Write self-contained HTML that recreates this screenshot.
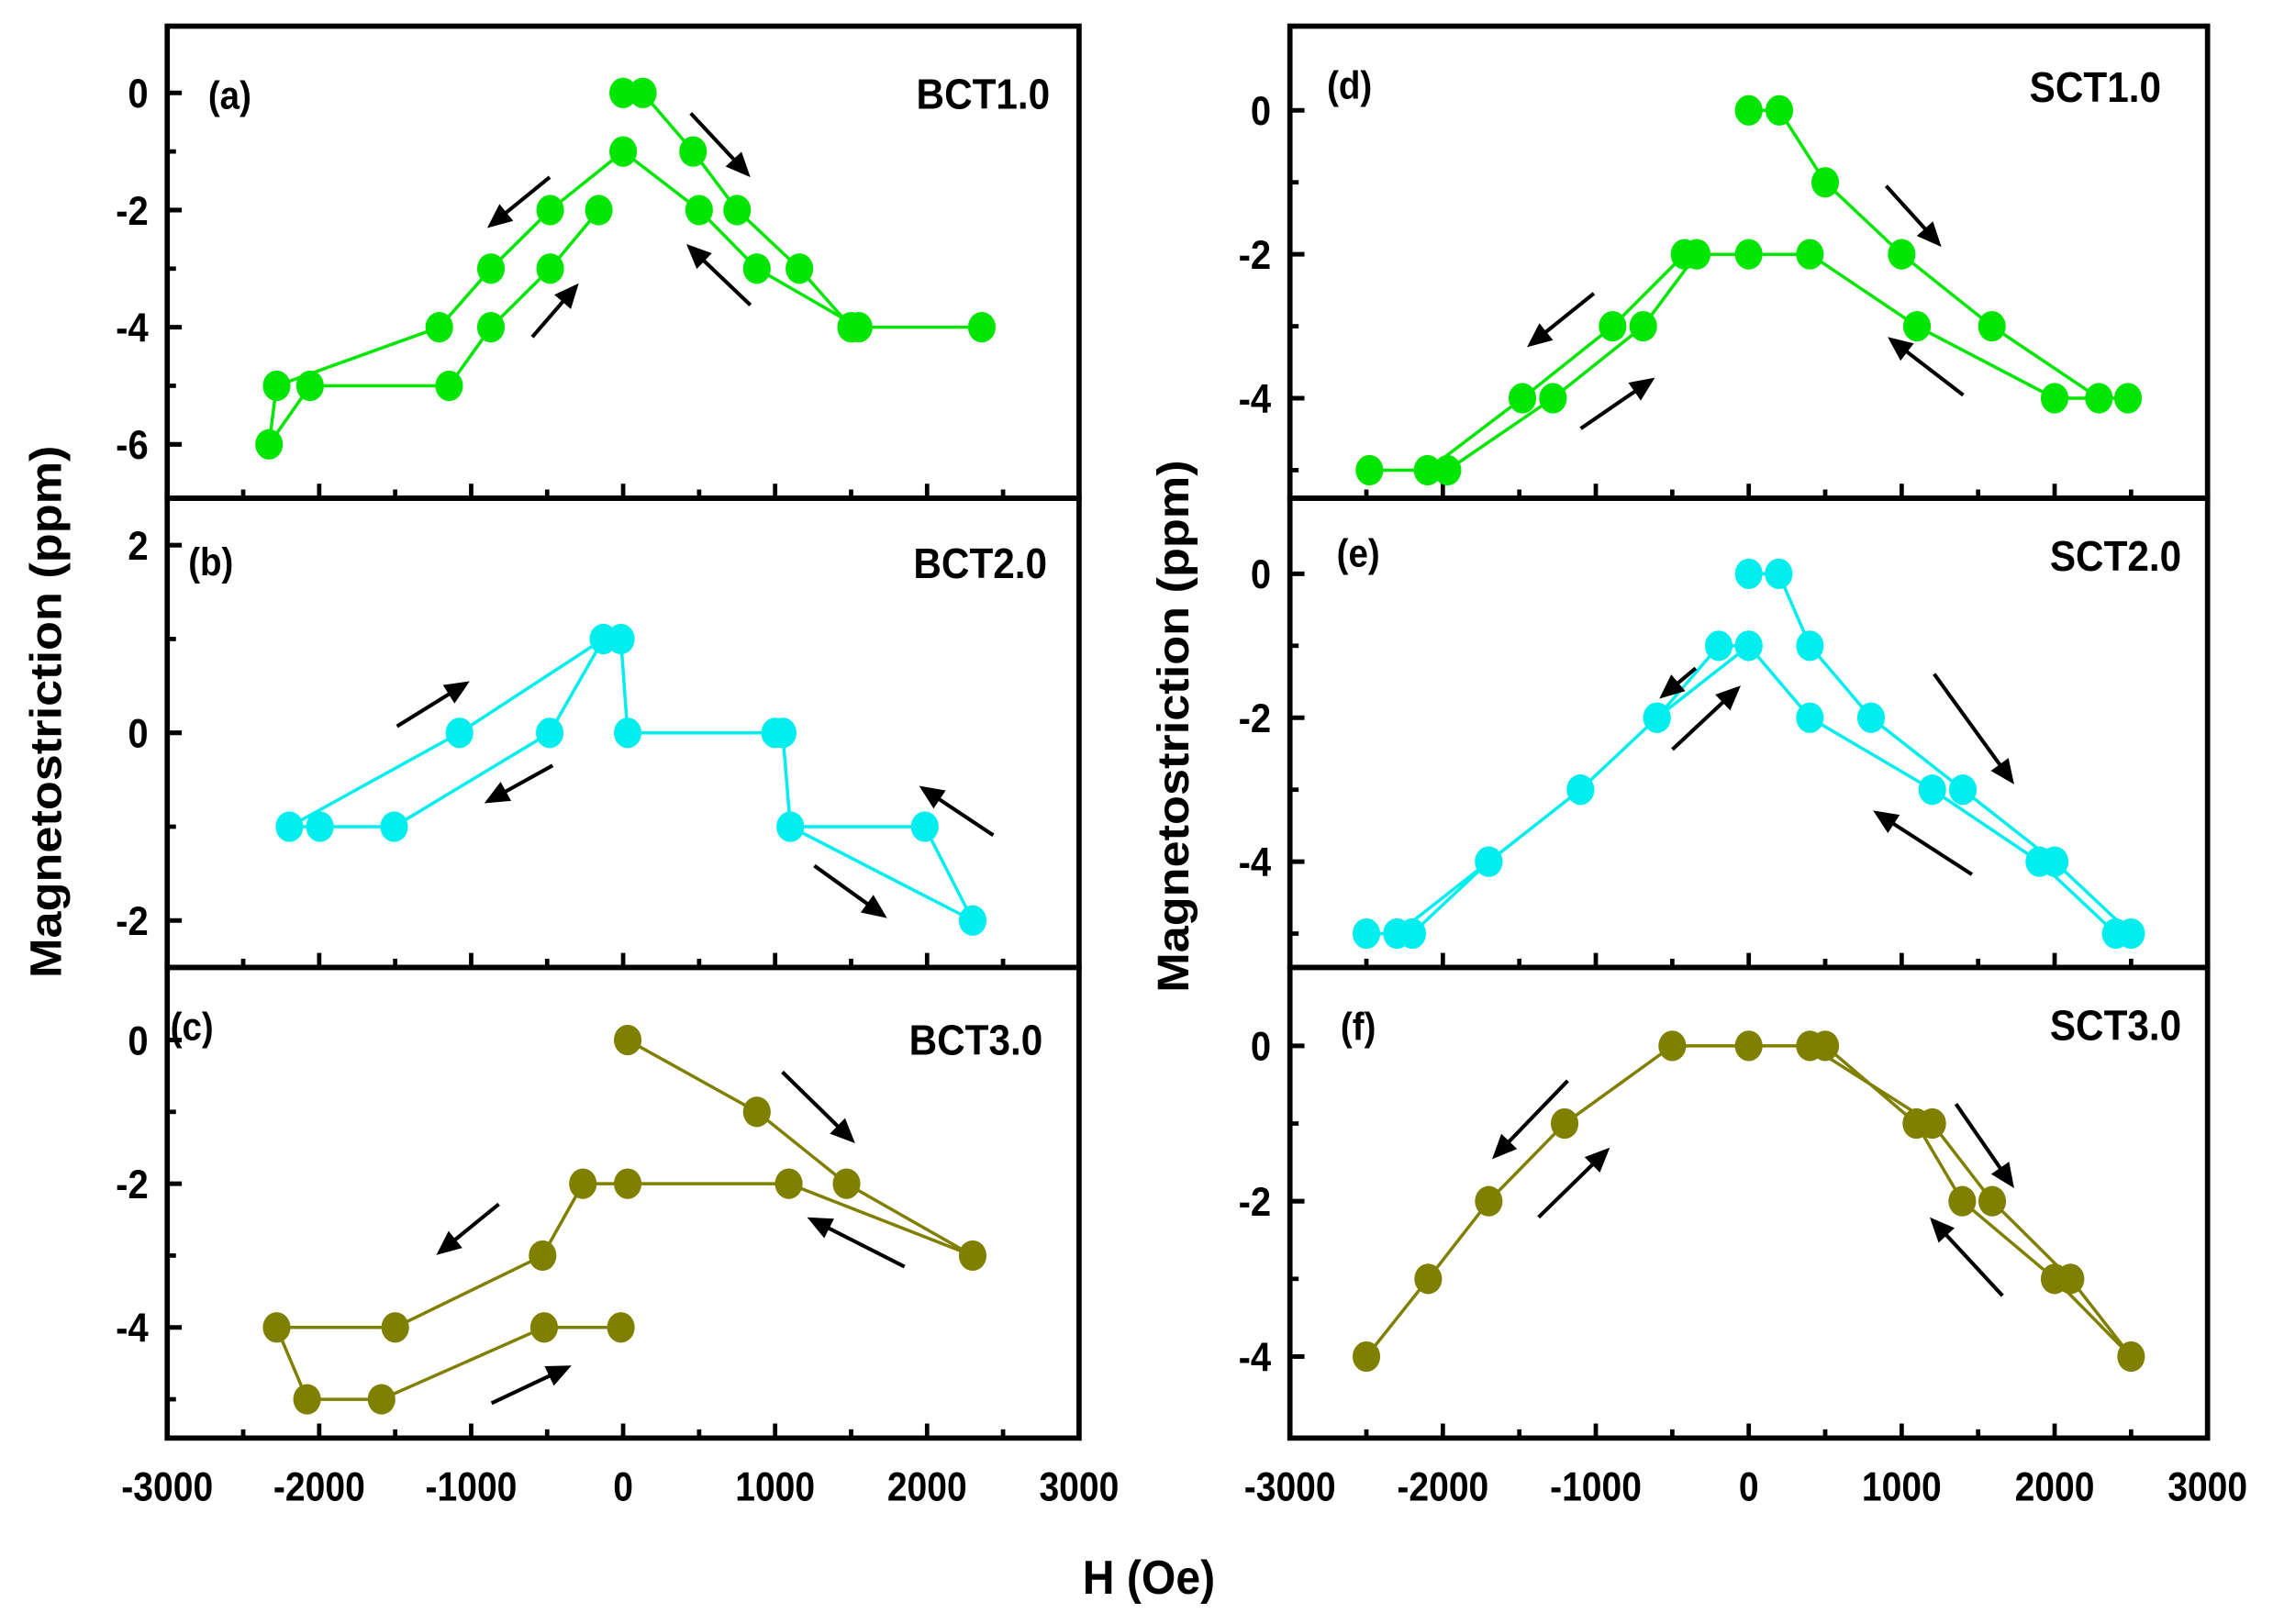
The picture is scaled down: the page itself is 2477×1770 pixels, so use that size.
<!DOCTYPE html>
<html><head><meta charset="utf-8"><style>
html,body{margin:0;padding:0;background:#fff}
svg{display:block}
text{font-family:"Liberation Sans",Arial,sans-serif;font-weight:bold;fill:#000}
</style></head><body>
<svg id="chart" width="2477" height="1770" viewBox="0 0 1563 1118" preserveAspectRatio="none" xmlns="http://www.w3.org/2000/svg"></svg>
<script>
// ---- data ----
const xTickValues = [-3000,-2000,-1000,0,1000,2000,3000];
const xTickLabels = ["-3000","-2000","-1000","0","1000","2000","3000"];
const seriesNames = ["BCT1.0","BCT2.0","BCT3.0","SCT1.0","SCT2.0","SCT3.0"];
const panelLetters = ["(a)","(b)","(c)","(d)","(e)","(f)"];

const aH = [0,130,460,750,1160,1500,2360,1550,880,500,0,-480,-870,-1210,-2280,-2330,-2060,-1145,-870,-480,-160];
const aL = [0,0,-1,-2,-3,-4,-4,-4,-3,-2,-1,-2,-3,-4,-5,-6,-5,-5,-4,-3,-2];
const bH = [1100,1985,2300,1100,1050,1000,30,-15,-130,-1077,-2196,-1995,-1507,-483,-130];
const bL = [-1,-1,-2,-1,0,0,0,1,1,0,-1,-1,-1,0,1];
const cH = [30,880,1470,2300,1090,30,-265,-530,-1500,-2280,-2080,-1590,-520,-15];
const cL = [0,-1,-2,-3,-2,-2,-2,-3,-4,-4,-5,-5,-4,-4];
const dH = [0,200,500,1000,1590,2290,2480,2000,1100,400,0,-420,-890,-1480,-2100,-2480,-1970,-1280,-690,-340];
const dL = [0,0,-1,-2,-3,-4,-4,-4,-3,-2,-2,-2,-3,-4,-5,-5,-5,-4,-3,-2];
const eH = [0,196,400,800,1400,2000,2500,2400,1900,1200,400,0,-196,-600,-1100,-1700,-2200,-2500,-2300,-1700,-1100,-600,0];
const eL = [0,0,-1,-2,-3,-4,-5,-5,-4,-3,-2,-1,-1,-2,-3,-4,-5,-5,-5,-4,-3,-2,-1];
const fH = [-2500,-2096,-1700,-1204,-500,0,400,1200,1592,2104,2500,2000,1396,1096,500];
const fL = [-4,-3,-2,-1,0,0,0,-1,-2,-3,-4,-3,-2,-1,0];

const yMaxes = [1.14,2.5,1.01,1.17,1.05,1.01];
const yMins = [-6.92,-2.5,-5.54,-5.39,-5.47,-5.05];
const yMajor = [[0,-2,-4,-6],[2,0,-2],[0,-2,-4],[0,-2,-4],[0,-2,-4],[0,-2,-4]];
const yMinor = [[-1,-3,-5],[1,-1],[-1,-3,-5],[-1,-3,-5],[-1,-3,-5],[-1,-3]];

// ---- layout ----
const colors = ["#00e600","#00eeee","#808000","#00e600","#00eeee","#808000"];
const panelBoxes = [
 [115,742,18,343],[115,742,343,666],[115,742,666,990],
 [887,1518,18,343],[887,1518,343,666],[887,1518,666,990]];
const arrowsPx = [
 [[378,122,335,157],[366,232,398,195],[475,78,516,122],[516,210,472,168]],
 [[273,500,323,469],[380,527,333,553],[683,575,632,541],[560,596,610,632]],
 [[343,829,300,864],[338,966,393,940],[538,738,588,787],[622,872,555,838]],
 [[1096,202,1050,239],[1087,295,1138,260],[1297,128,1335,170],[1350,272,1298,232]],
 [[1166,460,1141,481],[1150,516,1197,472],[1330,464,1385,540],[1356,602,1288,558]],
 [[1078,744,1026,798],[1058,838,1107,790],[1345,760,1385,818],[1377,892,1327,838]]];
const letterPos = [[158,75],[145,396],[132,716],[928,68],[934,390],[934,716]];
const namePos = [[722,75],[720,398],[717,726],[1486,70],[1500,393],[1500,716]];

const NS = "http://www.w3.org/2000/svg";
const svg = document.getElementById("chart");
function mk(tag, attrs, parent){
  const e = document.createElementNS(NS, tag);
  for (const k in attrs) e.setAttribute(k, attrs[k]);
  (parent||svg).appendChild(e); return e;
}
const allH = [aH,bH,cH,dH,eH,fH];
const allL = [aL,bL,cL,dL,eL,fL];

for (let p=0;p<6;p++){
  const [x0,x1,y0,y1] = panelBoxes[p];
  const xs = v => x0 + (v+3000)/6000*(x1-x0);
  const ys = v => y0 + (yMaxes[p]-v)/(yMaxes[p]-yMins[p])*(y1-y0);
  const g = mk("g",{});
  
  
  yMajor[p].forEach(v=>{
    const t = mk("line",{x1:x0,x2:x0+10,y1:ys(v),y2:ys(v),stroke:"#000","stroke-width":3.2},g);
    
    
    const lab = mk("text",{x:x0-13,y:ys(v)+10,"text-anchor":"end","font-size":28,transform:`translate(${x0-13},0) scale(0.9,1) translate(${-(x0-13)},0)`},g);
    lab.textContent = String(v);
    
    
  });
  yMinor[p].forEach(v=>{
    const t = mk("line",{x1:x0,x2:x0+6,y1:ys(v),y2:ys(v),stroke:"#000","stroke-width":3},g);
    
    
  });
  for (let v=-2500; v<=2500; v+=500){
    const major = v%1000===0;
    const t = mk("line",{x1:xs(v),x2:xs(v),y1:y1,y2:y1-(major?10:6),stroke:"#000","stroke-width":3},g);
    
    
  }
  if (p===2||p===5){
    xTickValues.forEach((v,i)=>{
      const cx = xs(v);
      const lab = mk("text",{x:cx,y:1033,"text-anchor":"middle","font-size":28,transform:`translate(${cx},0) scale(0.88,1) translate(${-cx},0)`},g);
      lab.textContent = xTickLabels[i];
      
      
    });
  }
  const H = allH[p], L = allL[p];
  const pts = H.map((h,i)=>xs(h).toFixed(1)+","+ys(L[i]).toFixed(1)).join(" ");
  const pl = mk("polyline",{points:pts,fill:"none",stroke:colors[p],"stroke-width":2.2,"stroke-linejoin":"round"},g);
  
  
  H.forEach((h,i)=>{
    const c = mk("ellipse",{cx:xs(h),cy:ys(L[i]),rx:9.5,ry:10.5,fill:colors[p]},g);
    
    
  });
  arrowsPx[p].forEach(a=>{
    const [ax,ay,bx,by] = a;
    const dx=bx-ax, dy=by-ay, len=Math.hypot(dx,dy), ux=dx/len, uy=dy/len;
    const hl=17, hw=7.5;
    const sx=bx-ux*hl, sy=by-uy*hl;
    const ag = mk("g",{},g);
    
    
    mk("line",{x1:ax,y1:ay,x2:sx+ux*2,y2:sy+uy*2,stroke:"#000","stroke-width":2.6},ag);
    mk("polygon",{points:`${bx},${by} ${sx-uy*hw},${sy+ux*hw} ${sx+uy*hw},${sy-ux*hw}`,fill:"#000"},ag);
  });
  const lx = letterPos[p][0];
  const lt = mk("text",{x:lx,y:letterPos[p][1],"text-anchor":"middle","font-size":27,transform:`translate(${lx},0) scale(0.9,1) translate(${-lx},0)`},g);
  lt.textContent = panelLetters[p];
  
  
  const nx = namePos[p][0];
  const nt = mk("text",{x:nx,y:namePos[p][1],"text-anchor":"end","font-size":29,transform:`translate(${nx},0) scale(0.92,1) translate(${-nx},0)`},g);
  nt.textContent = seriesNames[p];
  
  
  const fr = mk("rect",{x:x0,y:y0,width:x1-x0,height:y1-y0,fill:"none",stroke:"#000","stroke-width":3.6},g);
  
  
}
const yt1 = mk("text",{x:0,y:0,"text-anchor":"middle","font-size":33,transform:"translate(42,490) rotate(-90) scale(1,0.92)"});
yt1.textContent = "Magnetostriction (ppm)";


const yt2 = mk("text",{x:0,y:0,"text-anchor":"middle","font-size":33,transform:"translate(817,500) rotate(-90) scale(1,0.92)"});
yt2.textContent = "Magnetostriction (ppm)";


const xt = mk("text",{x:0,y:0,"text-anchor":"middle","font-size":33,transform:"translate(790,1097) scale(0.92,1)"});
xt.textContent = "H (Oe)";


</script>
</body></html>
